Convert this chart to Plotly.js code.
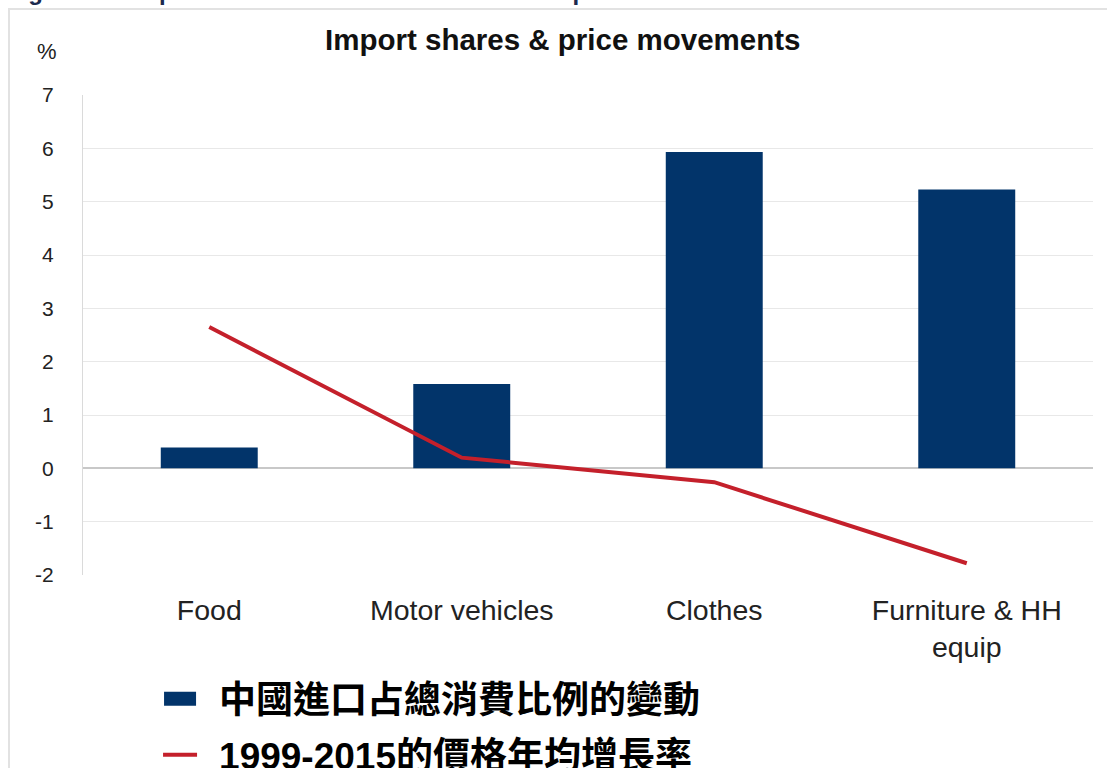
<!DOCTYPE html>
<html>
<head>
<meta charset="utf-8">
<script src="https://cdn.plot.ly/plotly-3.0.1.min.js"></script>
<style>
  html, body { margin: 0; padding: 0; background: #ffffff; overflow: hidden; }
  #wrap { width: 1107px; height: 768px; overflow: hidden; position: relative; }
  #chart { width: 1107px; height: 830px; position: relative; }
  #frame { position: absolute; left: 8px; top: 8px; width: 1110px; height: 770px;
           border-top: 2px solid #e2e2e2; border-left: 2px solid #e2e2e2; pointer-events: none; }
</style>
</head>
<body>
<div id="wrap">
<div id="chart"></div>
<div id="frame"></div>
</div>
<script>
const categories = ['Food', 'Motor vehicles', 'Clothes', 'Furniture & HH<br>equip'];
const importShareChange = [0.39, 1.58, 5.93, 5.23];
const priceGrowth = [2.65, 0.20, -0.26, -1.78];
const yTicks = [-2, -1, 0, 1, 2, 3, 4, 5, 6, 7];
const seriesNames = ['中國進口占總消費比例的變動', '1999-2015的價格年均增長率'];
const chartTitle = 'Import shares &amp; price movements';
const captionText = 'Fig. 3: China-produced content lowers consumer prices';

const baseFont = 'Liberation Sans, Arial, "Noto Sans CJK TC", sans-serif';

const traces = [
  {
    type: 'bar',
    x: categories,
    y: importShareChange,
    name: seriesNames[0],
    legendgroup: 'a',
    marker: { color: '#02346a', line: { width: 0 } },
    hoverinfo: 'x+y'
  },
  {
    type: 'scatter',
    mode: 'lines',
    x: categories,
    y: priceGrowth,
    name: seriesNames[1],
    legendgroup: 'b',
    line: { color: '#c4202b', width: 4 },
    hoverinfo: 'x+y'
  }
];

const layout = {
  width: 1107,
  height: 830,
  margin: { l: 83, r: 14, t: 95, b: 255, pad: 0 },
  paper_bgcolor: '#ffffff',
  plot_bgcolor: '#ffffff',
  font: { family: baseFont, color: '#1a1a1a' },
  bargap: 0.616,
  showlegend: true,
  title: {
    text: '<b>' + chartTitle + '</b>',
    font: { family: baseFont, size: 29.5, color: '#111111' },
    x: 0.475, xref: 'paper', xanchor: 'center',
    y: 1, yref: 'container', yanchor: 'top',
    pad: { t: 29 }
  },
  xaxis: {
    type: 'category',
    tickfont: { family: baseFont, size: 28.5, color: '#222222' },
    showgrid: false,
    showline: false,
    zeroline: false,
    ticks: '',
    ticklabelstandoff: 15,
    fixedrange: true
  },
  yaxis: {
    range: [-2, 7],
    tickvals: yTicks,
    ticktext: yTicks.map(String),
    tickfont: { family: baseFont, size: 21, color: '#222222' },
    showgrid: true,
    gridcolor: '#e8e8e8',
    gridwidth: 1,
    zeroline: true,
    zerolinecolor: '#c8c8c8',
    zerolinewidth: 1.5,
    showline: true,
    linecolor: '#dadada',
    linewidth: 1,
    ticks: '',
    ticklabelstandoff: 24,
    fixedrange: true
  },
  legend: {
    orientation: 'v',
    x: 0.0753, xanchor: 'left',
    y: -0.194, yanchor: 'top',
    itemwidth: 50,
    font: { family: baseFont, size: 37, color: '#000000', weight: 'bold' },
    traceorder: 'grouped',
    tracegroupgap: 5,
    bgcolor: 'rgba(0,0,0,0)',
    borderwidth: 0
  },
  annotations: [
    {
      text: '%',
      xref: 'paper', yref: 'paper',
      x: -0.024, y: 1.09,
      xanchor: 'right', yanchor: 'middle',
      showarrow: false,
      font: { family: baseFont, size: 22, color: '#222222' }
    },
    {
      text: '<b>' + captionText + '</b>',
      xref: 'paper', yref: 'paper',
      x: -0.077, y: 1.2165,
      xanchor: 'left', yanchor: 'middle',
      showarrow: false,
      font: { family: baseFont, size: 24, color: '#1b2a4e' }
    }
  ]
};

function reshapeLegendKeys() {
  const gd = document.getElementById('chart');
  gd.querySelectorAll('path').forEach(function (p) {
    const cls = p.getAttribute('class') || '';
    const d = p.getAttribute('d') || '';
    if (cls.indexOf('legendbar') !== -1 || d === 'M6,6H-6V-6H6Z') {
      p.setAttribute('d', 'M7,7H-25V-7H7Z');
    }
  });
  const legend = gd.querySelector('.legend');
  if (legend) {
    legend.querySelectorAll('path.js-line').forEach(function (p) {
      p.setAttribute('d', 'M4,0h34');
    });
  }
}

const plotPromise = Plotly.newPlot('chart', traces, layout, { displayModeBar: false, responsive: false });
reshapeLegendKeys();
plotPromise.then(function (gd) {
  reshapeLegendKeys();
  gd.on('plotly_afterplot', reshapeLegendKeys);
  setTimeout(reshapeLegendKeys, 30);
});
</script>
</body>
</html>
